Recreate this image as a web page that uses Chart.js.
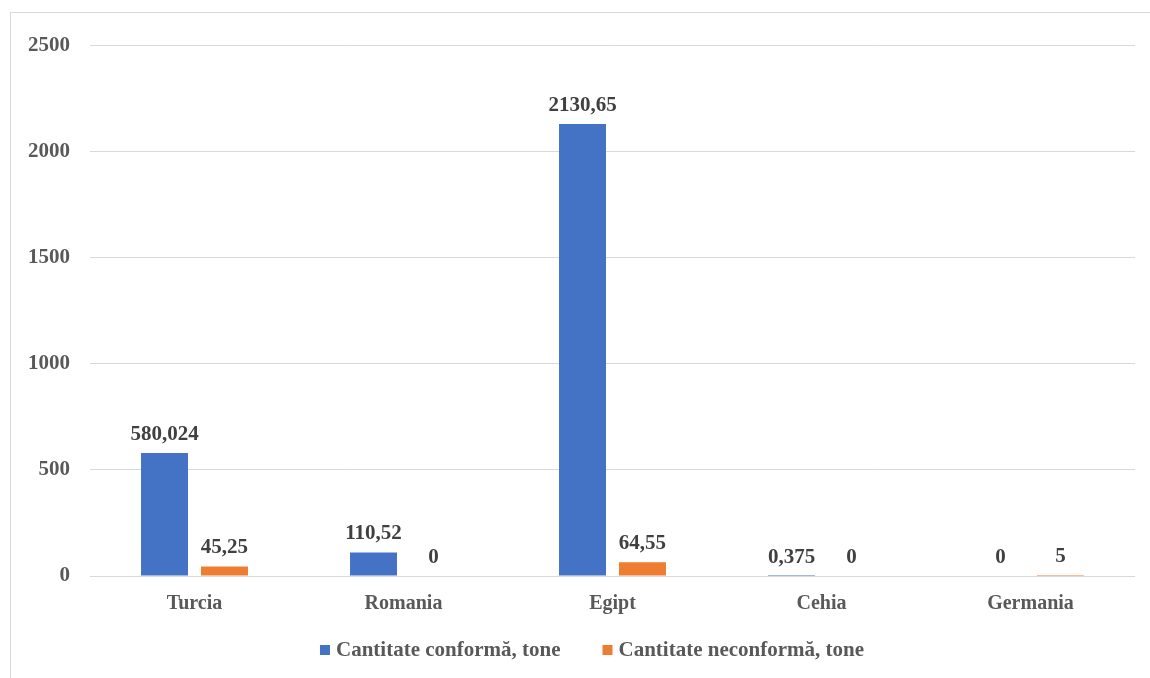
<!DOCTYPE html>
<html>
<head>
<meta charset="utf-8">
<script src="https://cdn.jsdelivr.net/npm/chart.js@4/dist/chart.umd.min.js"></script>
<style>
  body { margin: 0; background: #fff; }
  #wrap {
    position: absolute; left: 10px; top: 12px;
    width: 1140px; height: 666px;
    border-left: 1px solid #d9d9d9; border-top: 1px solid #d9d9d9;
  }
</style>
</head>
<body>
<div id="wrap"><canvas id="exportChart"></canvas></div>
<script>
const countries = ["Turcia", "Romania", "Egipt", "Cehia", "Germania"];
const conformValues = [580.024, 110.52, 2130.65, 0.375, 0];
const neconformValues = [45.25, 0, 64.55, 0, 5];
const yTicks = [0, 500, 1000, 1500, 2000, 2500];

const fontFamily = "'Liberation Serif', 'Times New Roman', serif";

// writes the value above every bar, with a comma as decimal mark
const barLabels = {
  id: 'barLabels',
  afterDatasetsDraw(chart) {
    const ctx = chart.ctx;
    ctx.save();
    ctx.font = "bold 21px " + fontFamily;
    ctx.fillStyle = '#404040';
    ctx.textAlign = 'center';
    ctx.textBaseline = 'bottom';
    chart.data.datasets.forEach((ds, i) => {
      chart.getDatasetMeta(i).data.forEach((bar, j) => {
        const txt = String(ds.data[j]).replace('.', ',');
        ctx.fillText(txt, bar.x, bar.y - 8);
      });
    });
    ctx.restore();
  }
};

// small legend at the bottom, boxes close to the text like in the original
const bottomLegend = {
  id: 'bottomLegend',
  afterDraw(chart) {
    const ctx = chart.ctx;
    const sets = chart.data.datasets;
    ctx.save();
    ctx.font = "bold 21px " + fontFamily;
    ctx.textBaseline = 'middle';
    ctx.textAlign = 'left';
    const gap = 6, spacing = 42, box = 10;
    let total = 0;
    sets.forEach((ds, i) => {
      total += box + gap + ctx.measureText(ds.label).width;
      if (i < sets.length - 1) total += spacing;
    });
    let x = chart.width / 2 + 11 - total / 2;
    const y = chart.height - 29;
    sets.forEach(ds => {
      ctx.fillStyle = ds.backgroundColor;
      ctx.fillRect(x, y - box / 2, box, box);
      x += box + gap;
      ctx.fillStyle = '#595959';
      ctx.fillText(ds.label, x, y + 1);
      x += ctx.measureText(ds.label).width + spacing;
    });
    ctx.restore();
  }
};

function drawChart() {
  const ctx = document.getElementById('exportChart').getContext('2d');
  new Chart(ctx, {
    type: 'bar',
    data: {
      labels: countries,
      datasets: [{
        label: 'Cantitate conformă, tone',
        data: conformValues,
        backgroundColor: '#4472c4',
        categoryPercentage: 0.574,
        barPercentage: 0.783
      }, {
        label: 'Cantitate neconformă, tone',
        data: neconformValues,
        backgroundColor: '#ed7d31',
        categoryPercentage: 0.574,
        barPercentage: 0.783
      }]
    },
    options: {
      responsive: true,
      maintainAspectRatio: false,
      animation: false,
      layout: { padding: { left: -3, right: 16, top: 2, bottom: 55 } },
      plugins: {
        tooltip: { enabled: false },
        legend: { display: false }
      },
      scales: {
        x: {
          grid: { display: false },
          border: { display: false },
          ticks: {
            color: '#595959',
            padding: 8,
            font: { family: fontFamily, size: 20, weight: 'bold' }
          }
        },
        y: {
          min: 0,
          max: 2500,
          afterBuildTicks: axis => { axis.ticks = yTicks.map(v => ({ value: v })); },
          grid: { color: '#d9d9d9', lineWidth: 1, drawTicks: false },
          border: { display: false },
          ticks: {
            color: '#595959',
            padding: 20,
            callback: v => String(v),
            font: { family: fontFamily, size: 21, weight: 'bold' }
          }
        }
      }
    },
    plugins: [barLabels, bottomLegend]
  });
}

document.addEventListener('DOMContentLoaded', drawChart);
</script>
</body>
</html>
